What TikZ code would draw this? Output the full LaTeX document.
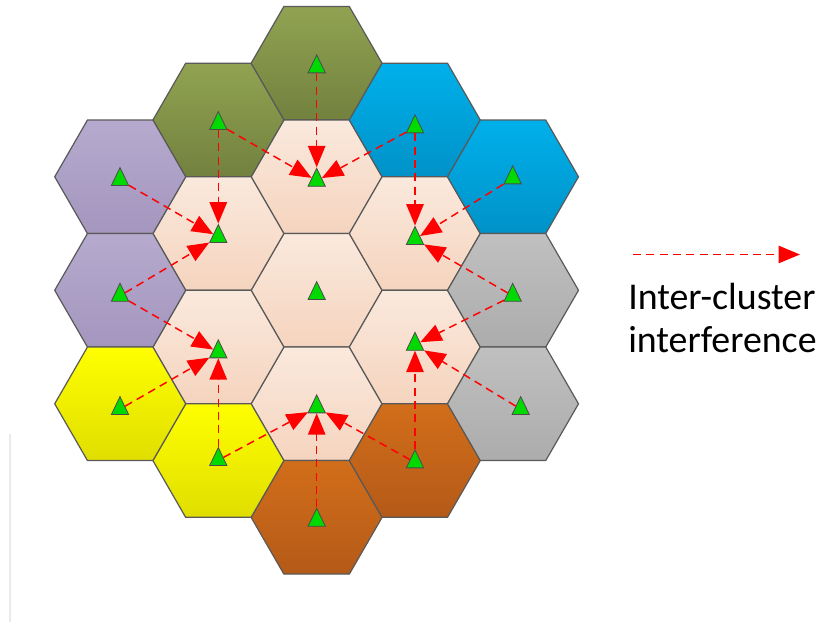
\documentclass[tikz,border=0pt]{standalone}
\usepackage{fontspec}
\setmainfont{Carlito}
\usepackage{tikz}
\usetikzlibrary{shapes.geometric,shadings,arrows.meta}

% cell colours (top / bottom of the gradient)
\definecolor{peachT}{RGB}{250,233,221}
\definecolor{peachB}{RGB}{245,212,190}
\definecolor{oliveT}{RGB}{145,163,82}
\definecolor{oliveB}{RGB}{114,129,62}
\definecolor{blueT}{RGB}{0,176,234}
\definecolor{blueB}{RGB}{0,146,200}
\definecolor{purpleT}{RGB}{182,170,206}
\definecolor{purpleB}{RGB}{164,150,190}
\definecolor{grayT}{RGB}{192,192,192}
\definecolor{grayB}{RGB}{172,172,172}
\definecolor{yellowT}{RGB}{255,255,0}
\definecolor{yellowB}{RGB}{224,222,0}
\definecolor{brownT}{RGB}{210,110,26}
\definecolor{brownB}{RGB}{180,90,24}
\definecolor{bsgreen}{RGB}{0,218,0}

\tikzset{
  cell/.style={draw=black!65, line width=0.9pt},
  bs/.style={isosceles triangle, shape border rotate=90, isosceles triangle stretches,
    minimum width=13pt, minimum height=13.5pt, inner sep=0pt, anchor=south,
    draw=black!70, line width=0.6pt, fill=bsgreen},
  ici/.style={draw=red, line width=1.1pt, dash pattern=on 6pt off 4pt,
    -{Triangle[length=16pt,width=13pt]}},
}

\begin{document}
\begin{tikzpicture}[x=0.75pt,y=-0.75pt]
        \useasboundingbox (0,0) rectangle (819,623);

        % 19 cells; k = column, r = half-rows from the centre cell
        \begin{scope}[shift={(316.6,290.3)}]
        \foreach \k/\r/\col in {0/-4/olive, 0/-2/peach, 0/0/peach, 0/2/peach, 0/4/brown,
            -1/-3/olive, -1/-1/peach, -1/1/peach, -1/3/yellow,
            1/-3/blue, 1/-1/peach, 1/1/peach, 1/3/brown,
            -2/-2/purple, -2/0/purple, -2/2/yellow,
            2/-2/blue, 2/0/gray, 2/2/gray}
          \draw[cell, top color=\col T, bottom color=\col B, shift={(98.2*\k,56.75*\r)}]
            (-65.5,0) -- (-32.75,-56.75) -- (32.75,-56.75) -- (65.5,0)
            -- (32.75,56.75) -- (-32.75,56.75) -- cycle;
        \end{scope}

        % base stations (base midpoint of each triangle)
        \node[bs] (olT) at (316.7,73.3) {};
        \node[bs] (olL) at (218.3,130) {};
        \node[bs] (blL) at (415,133.3) {};
        \node[bs] (blR) at (512.7,184.3) {};
        \node[bs] (puT) at (120,186) {};
        \node[bs] (puB) at (120,301.7) {};
        \node[bs] (grT) at (512.7,301.7) {};
        \node[bs] (grB) at (520.7,415) {};
        \node[bs] (yeL) at (120,415) {};
        \node[bs] (yeR) at (218.3,466) {};
        \node[bs] (brR) at (415,468.3) {};
        \node[bs] (brB) at (316.7,526.7) {};

        \node[bs] (pcN) at (316.7,186.7) {};
        \node[bs] (pcNW) at (218.3,243) {};
        \node[bs] (pcNE) at (415,245) {};
        \node[bs] (pcC) at (316.7,300) {};
        \node[bs] (pcSW) at (218.3,358.3) {};
        \node[bs] (pcSE) at (415,350.7) {};
        \node[bs] (pcS) at (316.7,413.3) {};

        % inter-cluster interference
        \draw[ici] (olT) -- (pcN);
        \draw[ici] (olL) -- (pcN);
        \draw[ici] (blL) -- (pcN);

        \draw[ici] (olL) -- (pcNW);
        \draw[ici] (puT) -- (pcNW);
        \draw[ici] (puB) -- (pcNW);

        \draw[ici] (blL) -- (pcNE);
        \draw[ici] (blR) -- (pcNE);
        \draw[ici] (grT) -- (pcNE);

        \draw[ici] (grT) -- (pcSE);
        \draw[ici] (grB) -- (pcSE);
        \draw[ici] (brR) -- (pcSE);

        \draw[ici] (brB) -- (pcS);
        \draw[ici] (yeR) -- (pcS);
        \draw[ici] (brR) -- (pcS);

        \draw[ici] (puB) -- (pcSW);
        \draw[ici] (yeL) -- (pcSW);
        \draw[ici] (yeR) -- (pcSW);

        % legend
        \coordinate (lgA) at (633,254.5);
        \coordinate (lgB) at (800,254.5);
        \draw[ici] (lgA) -- (lgB);
        \node[anchor=base west, inner sep=0pt, font=\fontsize{28.4pt}{34pt}\selectfont]
          (lgT1) at (628,309.3) {Inter-cluster};
        \node[anchor=base west, inner sep=0pt, font=\fontsize{28.4pt}{34pt}\selectfont]
          (lgT2) at (628,353) {interference};

        % faint rule at the left edge
        \draw[black!8, line width=1pt] (10,434) -- (10,622);
\end{tikzpicture}
\end{document}
